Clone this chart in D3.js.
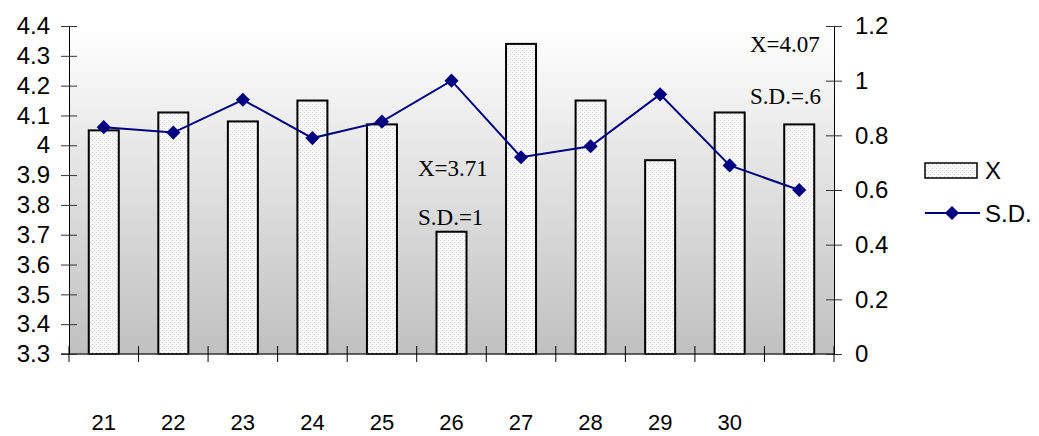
<!DOCTYPE html>
<html><head><meta charset="utf-8">
<script src="https://cdn.jsdelivr.net/npm/d3@7"></script>
<style>body{margin:0;background:#fff}svg{display:block}</style>
</head><body>
<script>
const categories = ["21","22","23","24","25","26","27","28","29","30",""];
const xValues = [4.05,4.11,4.08,4.15,4.07,3.71,4.34,4.15,3.95,4.11,4.07];
const sdValues = [0.83,0.81,0.93,0.79,0.85,1.0,0.72,0.76,0.95,0.69,0.60];
const leftTicks = [3.3,3.4,3.5,3.6,3.7,3.8,3.9,4.0,4.1,4.2,4.3,4.4];
const rightTicks = [0,0.2,0.4,0.6,0.8,1.0,1.2];
const noteTexts = ["X=3.71","S.D.=1","X=4.07","S.D.=.6"];

const W=1039,H=436;
const L=69,R=834,T=26,B=354;
const svg=d3.select("body").append("svg").attr("width",W).attr("height",H);
const defs=svg.append("defs");
const g=defs.append("linearGradient").attr("id","bg").attr("x1",0).attr("y1",0).attr("x2",0).attr("y2",1);
g.append("stop").attr("offset","0%").attr("stop-color","#ffffff");
g.append("stop").attr("offset","100%").attr("stop-color","#c0c0c0");
const pat=defs.append("pattern").attr("id","dots").attr("width",4).attr("height",4).attr("patternUnits","userSpaceOnUse");
pat.append("rect").attr("width",4).attr("height",4).attr("fill","#f8f8f8");
pat.append("rect").attr("x",0).attr("y",0).attr("width",1).attr("height",1).attr("fill","#d6d6d6");
pat.append("rect").attr("x",2).attr("y",2).attr("width",1).attr("height",1).attr("fill","#d6d6d6");

const x=d3.scaleBand().domain(d3.range(categories.length)).range([L,R]).padding(0);
const y=d3.scaleLinear().domain([3.3,4.4]).range([B,T]);
const y2=d3.scaleLinear().domain([0,1.2]).range([B,T]);

svg.append("rect").attr("x",L).attr("y",T).attr("width",R-L).attr("height",B-T).attr("fill","url(#bg)");

const bw=30;
svg.append("g").selectAll("rect").data(xValues).join("rect")
  .attr("x",(d,i)=>x(i)+x.bandwidth()/2-bw/2).attr("y",d=>y(d))
  .attr("width",bw).attr("height",d=>B-y(d))
  .attr("fill","url(#dots)").attr("stroke","#000").attr("stroke-width",2);

const font="Liberation Sans, Arial, sans-serif";
const la=svg.append("g").attr("transform",`translate(${L},0)`)
  .call(d3.axisLeft(y).tickValues(leftTicks).tickFormat(d=>String(+d.toFixed(1))).tickSizeInner(8).tickSizeOuter(0));
la.selectAll(".tick line").attr("x2",8).attr("x1",-8).attr("stroke","#333");
la.select(".domain").attr("stroke","#000");
la.selectAll("text").attr("x",-19).attr("font-family",font).attr("font-size",24).attr("fill","#000");

const ra=svg.append("g").attr("transform",`translate(${R},0)`)
  .call(d3.axisRight(y2).tickValues(rightTicks).tickFormat(d=>String(+d.toFixed(1))).tickSizeInner(8).tickSizeOuter(0));
ra.selectAll(".tick line").attr("x1",-8).attr("x2",8).attr("stroke","#333");
ra.select(".domain").attr("stroke","#000");
ra.selectAll("text").attr("x",21).attr("font-family",font).attr("font-size",24).attr("fill","#000");

svg.append("line").attr("x1",L-8).attr("x2",R).attr("y1",B).attr("y2",B).attr("stroke","#333").attr("stroke-width",1.5);
const bounds=d3.range(categories.length+1).map(i=>i<categories.length?x(i):R);
svg.append("g").selectAll("line").data(bounds).join("line")
  .attr("x1",d=>d).attr("x2",d=>d).attr("y1",B-8).attr("y2",B+8).attr("stroke","#000");
svg.append("g").selectAll("text").data(categories).join("text")
  .attr("x",(d,i)=>x(i)+x.bandwidth()/2).attr("y",430).attr("text-anchor","middle")
  .attr("font-family",font).attr("font-size",22).text(d=>d);

const line=d3.line().x((d,i)=>x(i)+x.bandwidth()/2).y(d=>y2(d));
svg.append("path").datum(sdValues).attr("d",line).attr("fill","none").attr("stroke","#000080").attr("stroke-width",2);
svg.append("g").selectAll("path").data(sdValues).join("path")
  .attr("d",d3.symbol().type(d3.symbolSquare).size(100))
  .attr("transform",(d,i)=>`translate(${x(i)+x.bandwidth()/2},${y2(d)}) rotate(45)`)
  .attr("fill","#000080");

const serif="Liberation Serif, Times New Roman, serif";
const notePos=[{x:418,y:176},{x:418,y:225},{x:750,y:52},{x:750,y:104}];
svg.append("g").selectAll("text").data(noteTexts).join("text")
  .attr("x",(d,i)=>notePos[i].x).attr("y",(d,i)=>notePos[i].y)
  .attr("font-family",serif).attr("font-size",23).text(d=>d);

const lg=svg.append("g");
lg.append("rect").attr("x",925).attr("y",163).attr("width",52).attr("height",15).attr("fill","url(#dots)").attr("stroke","#000").attr("stroke-width",1.5);
lg.append("text").attr("x",985).attr("y",179).attr("font-family",font).attr("font-size",24).text("X");
lg.append("line").attr("x1",925).attr("x2",980).attr("y1",213).attr("y2",213).attr("stroke","#000080").attr("stroke-width",2);
lg.append("path").attr("d",d3.symbol().type(d3.symbolSquare).size(100)).attr("transform","translate(952,213) rotate(45)").attr("fill","#000080");
lg.append("text").attr("x",985).attr("y",222).attr("font-family",font).attr("font-size",24).text("S.D.");
</script>
</body></html>
